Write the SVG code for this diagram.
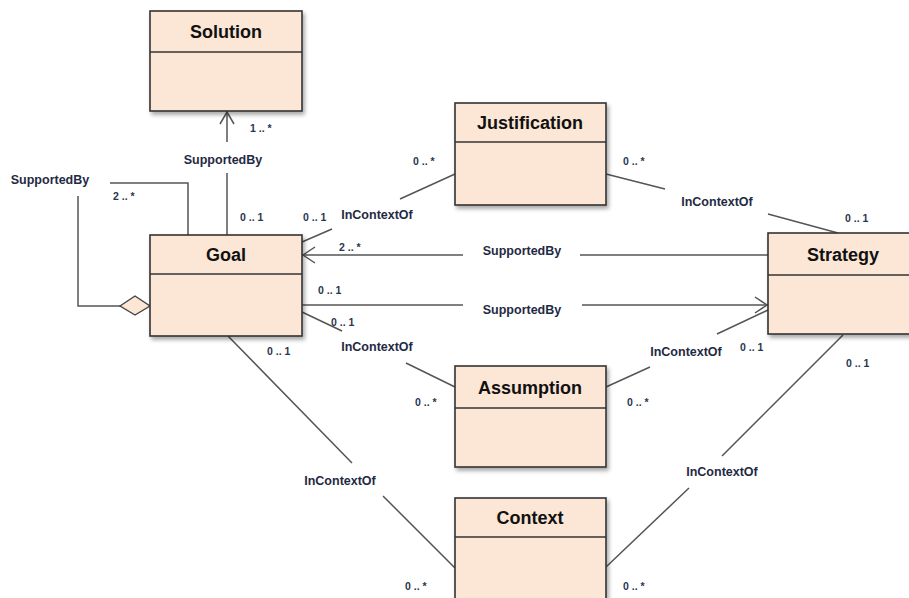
<svg xmlns="http://www.w3.org/2000/svg" width="909" height="598" viewBox="0 0 909 598">
<defs>
<filter id="sh" x="-10%" y="-10%" width="130%" height="130%">
<feGaussianBlur in="SourceAlpha" stdDeviation="2"/>
<feOffset dx="2" dy="3"/>
<feComponentTransfer><feFuncA type="linear" slope="0.35"/></feComponentTransfer>
<feMerge><feMergeNode/><feMergeNode in="SourceGraphic"/></feMerge>
</filter>
</defs>
<style>
.box{fill:#FCE6D5;stroke:#333;stroke-width:1.6}
.div{stroke:#333;stroke-width:1.4}
.title{font-family:"Liberation Sans",Arial,sans-serif;font-weight:bold;font-size:18px;fill:#111;text-anchor:middle}
.ln{fill:none;stroke:#555;stroke-width:1.5}
.lbl{font-family:"Liberation Sans",Arial,sans-serif;font-weight:bold;font-size:12.5px;fill:#1F2A44;text-anchor:middle}
.m{font-family:"Liberation Sans",Arial,sans-serif;font-weight:bold;font-size:10.5px;fill:#2A3550}
.dia{fill:#FCE6D5;stroke:#444;stroke-width:1.4}
</style>
<rect width="909" height="598" fill="#fff"/>
<g id="connectors">
<path class="ln" d="M227,111V142M227,173V235"/>
<path class="ln" d="M220,124L227,112L234,124"/>
<path class="ln" d="M188,235V183H110M78,196V306H120"/>
<polygon class="dia" points="120,306 135,296 150,306 135,315"/>
<path class="ln" d="M302,242L332,229M400,199L455,174"/>
<path class="ln" d="M606,174L665,189M768,214L838,233"/>
<path class="ln" d="M302,255H463M580,255H768"/>
<path class="ln" d="M315,247L303,255L315,263"/>
<path class="ln" d="M302,305H463M582,305H768"/>
<path class="ln" d="M755,297L767,305L755,313"/>
<path class="ln" d="M302,312L342,331M406,363L455,387"/>
<path class="ln" d="M606,387L650,367M717,334L768,310"/>
<path class="ln" d="M228,336L352,463M383,496L455,568"/>
<path class="ln" d="M843,335L722,456M689,488L606,567"/>
<text class="lbl" x="223" y="164">SupportedBy</text>
<text class="lbl" x="50" y="184">SupportedBy</text>
<text class="lbl" x="377" y="219">InContextOf</text>
<text class="lbl" x="717" y="206">InContextOf</text>
<text class="lbl" x="522" y="255">SupportedBy</text>
<text class="lbl" x="522" y="314">SupportedBy</text>
<text class="lbl" x="377" y="351">InContextOf</text>
<text class="lbl" x="686" y="356">InContextOf</text>
<text class="lbl" x="340" y="485">InContextOf</text>
<text class="lbl" x="722" y="476">InContextOf</text>
<text class="m" x="250" y="132">1 .. *</text>
<text class="m" x="240" y="221">0 .. 1</text>
<text class="m" x="113" y="200">2 .. *</text>
<text class="m" x="303" y="221">0 .. 1</text>
<text class="m" x="413" y="165">0 .. *</text>
<text class="m" x="623" y="165">0 .. *</text>
<text class="m" x="845" y="222">0 .. 1</text>
<text class="m" x="339" y="251">2 .. *</text>
<text class="m" x="318" y="294">0 .. 1</text>
<text class="m" x="331" y="326">0 .. 1</text>
<text class="m" x="415" y="406">0 .. *</text>
<text class="m" x="627" y="406">0 .. *</text>
<text class="m" x="740" y="351">0 .. 1</text>
<text class="m" x="267" y="355">0 .. 1</text>
<text class="m" x="405" y="590">0 .. *</text>
<text class="m" x="846" y="367">0 .. 1</text>
<text class="m" x="623" y="590">0 .. *</text>
</g>
<g id="solution">
<rect class="box" x="150" y="11" width="152" height="100" filter="url(#sh)"/>
<line class="div" x1="150" y1="52" x2="302" y2="52"/>
<text class="title" x="226" y="38">Solution</text>
</g>
<g id="goal">
<rect class="box" x="150" y="235" width="152" height="101" filter="url(#sh)"/>
<line class="div" x1="150" y1="274" x2="302" y2="274"/>
<text class="title" x="226" y="261">Goal</text>
</g>
<g id="justification">
<rect class="box" x="455" y="103" width="151" height="102" filter="url(#sh)"/>
<line class="div" x1="455" y1="142" x2="606" y2="142"/>
<text class="title" x="530" y="129">Justification</text>
</g>
<g id="strategy">
<rect class="box" x="768" y="233" width="150" height="101" filter="url(#sh)"/>
<line class="div" x1="768" y1="275" x2="918" y2="275"/>
<text class="title" x="843" y="261">Strategy</text>
</g>
<g id="assumption">
<rect class="box" x="455" y="366" width="151" height="101" filter="url(#sh)"/>
<line class="div" x1="455" y1="408" x2="606" y2="408"/>
<text class="title" x="530" y="394">Assumption</text>
</g>
<g id="context">
<rect class="box" x="455" y="498" width="151" height="110" filter="url(#sh)"/>
<line class="div" x1="455" y1="537" x2="606" y2="537"/>
<text class="title" x="530" y="524">Context</text>
</g>
</svg>
